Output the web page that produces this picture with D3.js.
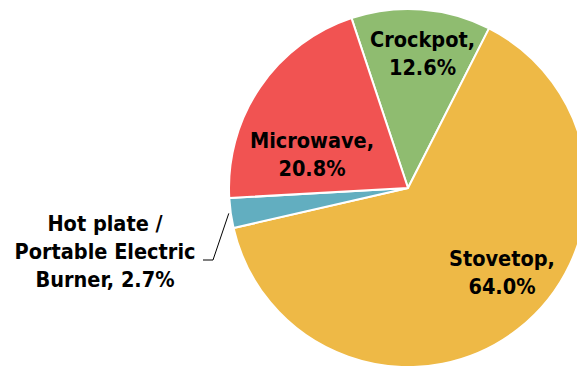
<!DOCTYPE html>
<html>
<head>
<meta charset="utf-8">
<script src="https://cdn.jsdelivr.net/npm/d3@7"></script>
<style>
  html, body { margin: 0; padding: 0; background: #fff; }
  svg text { font-family: "DejaVu Sans Condensed", "DejaVu Sans", Verdana, sans-serif; font-stretch: condensed; font-weight: bold; fill: #000; }
</style>
</head>
<body>
<svg id="chart" width="577" height="366"></svg>
<script>
// Cooking methods and their share (%)
const categories = ["Crockpot", "Stovetop", "Hot plate / Portable Electric Burner", "Microwave"];
const shares = [12.6, 64.0, 2.7, 20.8];
const colors = ["#8FBC70", "#EEB946", "#62AEC0", "#F15352"];

// label line breaks
const labelLines = [
  ["Crockpot,", "12.6%"],
  ["Stovetop,", "64.0%"],
  ["Hot plate /", "Portable Electric", "Burner, 2.7%"],
  ["Microwave,", "20.8%"]
];

const W = 577, H = 366;
const cx = 408, cy = 188, R = 179;
const startDeg = -18.4;

const svg = d3.select("#chart");
const g = svg.append("g").attr("transform", `translate(${cx},${cy})`);

const data = categories.map((c, i) => ({ name: c, value: shares[i], color: colors[i], lines: labelLines[i] }));

const pie = d3.pie()
  .sort(null)
  .value(d => d.value)
  .startAngle(startDeg * Math.PI / 180)
  .endAngle(startDeg * Math.PI / 180 + 2 * Math.PI);

const arcs = pie(data);
const arc = d3.arc().innerRadius(0).outerRadius(R);

g.selectAll("path.slice")
  .data(arcs)
  .join("path")
  .attr("class", "slice")
  .attr("d", arc)
  .attr("fill", d => d.data.color)
  .attr("stroke", "#fff")
  .attr("stroke-width", 2)
  .attr("stroke-linejoin", "round");

const fontSize = 21.5;
const lineH = 28;

// label anchor (centre x, first baseline) in page coordinates, by slice index
const labelPos = [
  [422.5, 47],
  [502, 266],
  [105, 231],
  [312, 148]
];

arcs.forEach((a, i) => {
  const [lx, ly] = labelPos[i];
  const t = svg.append("text")
    .attr("text-anchor", "middle")
    .attr("font-size", fontSize);
  a.data.lines.forEach((ln, j) => {
    t.append("tspan").attr("x", lx).attr("y", ly + j * lineH).text(ln);
  });
});

// leader line for the small slice
const small = arcs[2];
const midA = (small.startAngle + small.endAngle) / 2;
const edge = [cx + Math.sin(midA) * (R + 2), cy - Math.cos(midA) * (R + 2)];
svg.append("polyline")
  .attr("points", [[203, 260], [213, 260], edge].map(p => p.join(",")).join(" "))
  .attr("fill", "none")
  .attr("stroke", "#000")
  .attr("stroke-width", 1);
</script>
</body>
</html>
